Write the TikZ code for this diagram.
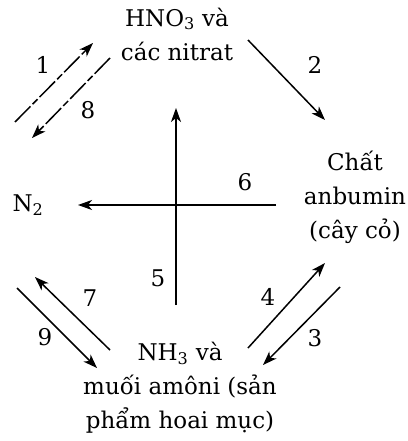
\documentclass[tikz,border=0pt]{standalone}
\usepackage{fontspec}
\setmainfont{DejaVu Serif}
\usetikzlibrary{arrows.meta}

\begin{document}
\begin{tikzpicture}[
  x=1pt, y=-1pt,
  font=\fontsize{23}{34}\selectfont,
  txt/.style={align=center, inner sep=0pt},
  num/.style={inner sep=0pt},
  arrow/.style={-{Stealth[length=14pt, width=10pt, inset=4pt]}, line width=1.5pt},
  broken/.style={dash pattern=on 22pt off 3pt on 7pt off 3pt}
]
\useasboundingbox (0,0) rectangle (407,441);

% --- Substances ---
\node[txt] (hno) at (177,34) {HNO\textsubscript{3} và\\ các nitrat};
\node[txt] (anb) at (355,197) {Chất\\ anbumin\\ (cây cỏ)};
\node[txt] (n2) at (28,205) {N\textsubscript{2}};
\node[txt] (nh3) at (180,388) {NH\textsubscript{3} và\\ muối amôni (sản\\ phẩm hoai mục)};

% --- Transformations ---
\draw[arrow, broken] ([shift={(-13,-83)}]n2.center) -- ([shift={(-84,9)}]hno.center);
\draw[arrow, broken] ([shift={(-67,24)}]hno.center) -- ([shift={(4,-67)}]n2.center);
\draw[arrow] ([shift={(71,6)}]hno.center) -- ([shift={(-30,-77)}]anb.center);
\draw[arrow] ([shift={(-15,90)}]anb.center) -- ([shift={(83,-23)}]nh3.center);
\draw[arrow] ([shift={(68,-40)}]nh3.center) -- ([shift={(-30,66)}]anb.center);
\draw[arrow] ([shift={(-4,-83)}]nh3.center) -- ([shift={(-1,74)}]hno.center);
\draw[arrow] ([shift={(-79,8)}]anb.center) -- ([shift={(50,0)}]n2.center);
\draw[arrow] ([shift={(-70,-38)}]nh3.center) -- ([shift={(7,72)}]n2.center);
\draw[arrow] ([shift={(-11,83)}]n2.center) -- ([shift={(-83,-20)}]nh3.center);

% --- Step numbers ---
\node[num] (s1) at (43,65) {1};
\node[num] (s2) at (315,65) {2};
\node[num] (s3) at (315,338) {3};
\node[num] (s4) at (268,297) {4};
\node[num] (s5) at (158,278) {5};
\node[num] (s6) at (245,182) {6};
\node[num] (s7) at (90,298) {7};
\node[num] (s8) at (88,110) {8};
\node[num] (s9) at (45,337) {9};

\end{tikzpicture}
\end{document}
